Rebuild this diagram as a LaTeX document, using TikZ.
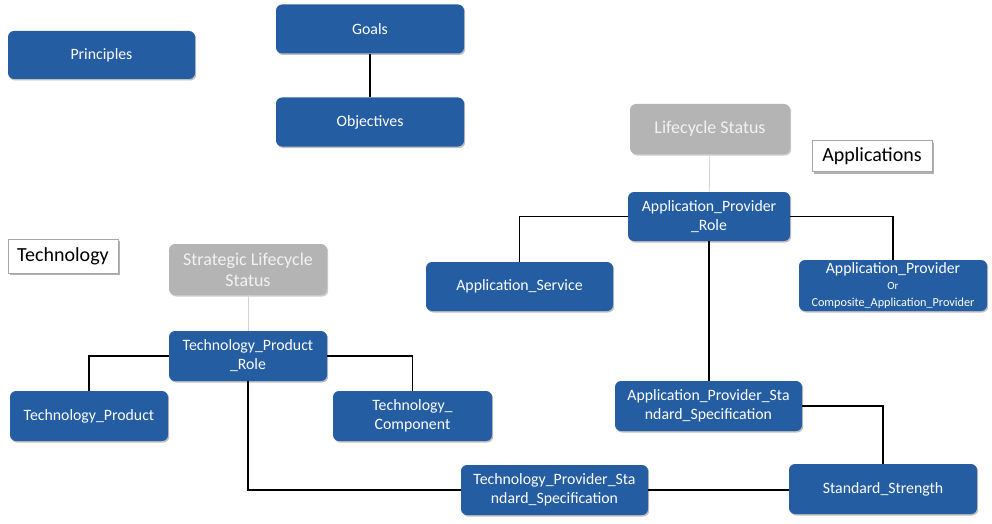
\documentclass[tikz,border=0pt]{standalone}
\usepackage{fontspec}
\setmainfont{Carlito}
\usetikzlibrary{shadows}
\definecolor{boxblue}{HTML}{245DA2}
\definecolor{boxgray}{HTML}{B4B4B4}
\definecolor{graytext}{HTML}{F2F2F2}
\definecolor{linkgray}{HTML}{D4D4D4}
\tikzset{
  bluebox/.style={draw=none, fill=boxblue, rounded corners=6pt, text=white,
    align=center, font=\fontsize{15.8}{19}\selectfont, inner sep=0pt,
    drop shadow={shadow xshift=1.2pt, shadow yshift=-1.5pt, opacity=0.25, fill=black}},
  graybox/.style={draw=none, fill=boxgray, rounded corners=6pt, text=graytext,
    align=center, font=\fontsize{18}{21}\selectfont, inner sep=0pt,
    drop shadow={shadow xshift=1.2pt, shadow yshift=-1.5pt, opacity=0.2, fill=black}},
  labelbox/.style={draw=black!35, line width=0.6pt, fill=white, text=black,
    font=\fontsize{20}{24}\selectfont, inner sep=0pt,
    drop shadow={shadow xshift=2pt, shadow yshift=-2pt, opacity=0.3, fill=black}},
  link/.style={draw=black, line width=1.9pt},
  thinlink/.style={draw=linkgray, line width=0.8pt},
}
\begin{document}
\begin{tikzpicture}[x=1pt,y=-1pt]
\useasboundingbox (0,0) rectangle (992,524);

\node[bluebox, minimum width=187pt, minimum height=48pt] (principles) at (101.5,55) {Principles};
\node[bluebox, minimum width=188pt, minimum height=49pt] (goals) at (370,29) {Goals};
\node[bluebox, minimum width=188pt, minimum height=49pt] (objectives) at (370,122) {Objectives};

\node[graybox, minimum width=160pt, minimum height=50pt] (lcs) at (710,129) {Lifecycle Status};
\node[labelbox, minimum width=120pt, minimum height=31pt] (applab) at (872,156) {Applications};
\node[bluebox, minimum width=162pt, minimum height=49pt] (apr) at (709,216.5) {Application\_Provider\\\_Role};
\node[bluebox, minimum width=187pt, minimum height=49pt] (appsvc) at (519.5,286.5) {Application\_Service};
\node[bluebox, minimum width=188pt, minimum height=51pt] (ap) at (893,285.5)
  {Application\_Provider\\[-3pt]{\fontsize{11}{12}\selectfont Or}\\[-2pt]{\fontsize{12.2}{13}\selectfont Composite\_Application\_Provider}};
\node[bluebox, minimum width=187pt, minimum height=50pt] (apss) at (708.5,406) {Application\_Provider\_Sta\\ndard\_Specification};

\node[labelbox, minimum width=110pt, minimum height=34pt] (techlab) at (63,256) {Technology};
\node[graybox, minimum width=158pt, minimum height=51pt] (sls) at (248,269.5) {Strategic Lifecycle\\Status};
\node[bluebox, minimum width=158pt, minimum height=50pt] (tpr) at (248,356) {Technology\_Product\\\_Role};
\node[bluebox, minimum width=158pt, minimum height=50pt] (tp) at (89,416) {Technology\_Product};
\node[bluebox, minimum width=159pt, minimum height=50pt] (tc) at (412.5,416) {Technology\_\\Component};
\node[bluebox, minimum width=187pt, minimum height=50pt] (tpss) at (554.5,490) {Technology\_Provider\_Sta\\ndard\_Specification};
\node[bluebox, minimum width=188pt, minimum height=50pt] (ss) at (883,489) {Standard\_Strength};

\draw[link] (goals) -- (objectives);
\draw[thinlink] (lcs) -- (apr);
\draw[link] (apr.west) -| (appsvc.north);
\draw[link] (apr.east) -| (ap.north);
\draw[link] (apr.south) -- (apr.south |- apss.north);
\draw[link] (apss.east) -| (ss.north);
\draw[link] (tpss.east) -- (tpss.east -| ss.west);
\draw[thinlink] (sls) -- (tpr);
\draw[link] (tpr.south) |- (tpss.west);
\draw[link] (tpr.west) -| (tp.north);
\draw[link] (tpr.east) -| (tc.north);
\end{tikzpicture}
\end{document}
